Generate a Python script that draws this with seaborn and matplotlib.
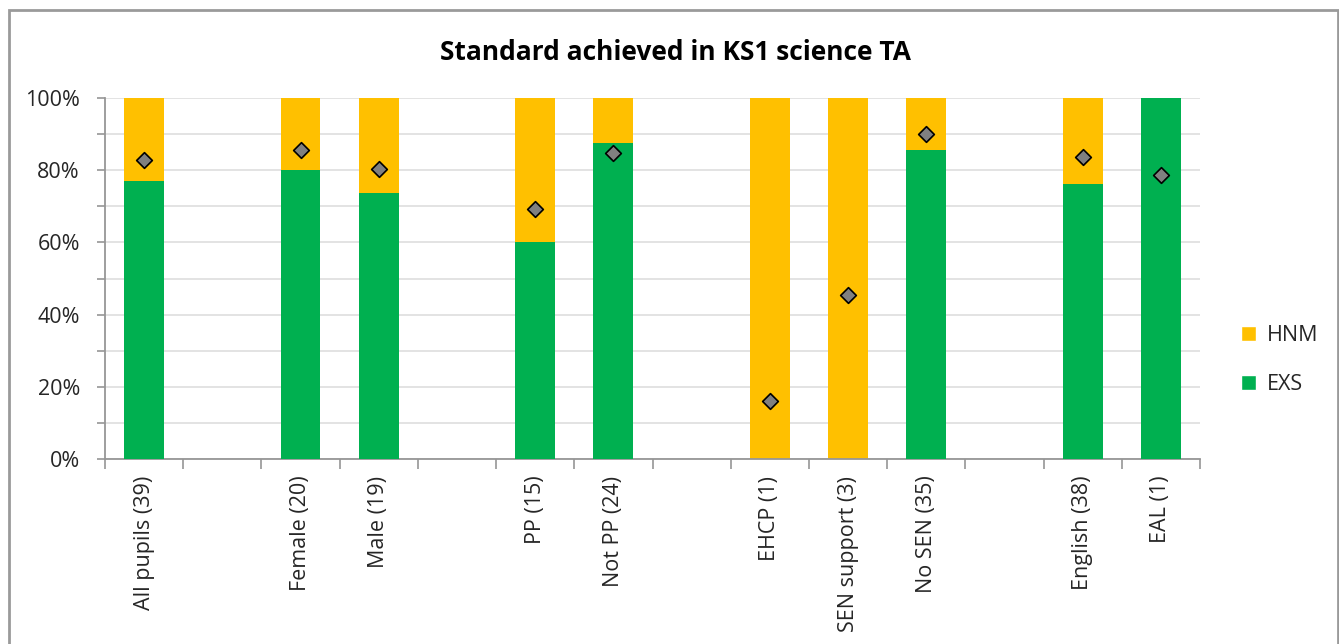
import numpy as np
import pandas as pd
import matplotlib
matplotlib.use('Agg')
import matplotlib.pyplot as plt
import seaborn as sns
from matplotlib.ticker import MultipleLocator, PercentFormatter
from matplotlib.patches import Rectangle, Patch

# Data (blank slots separate the groups)
groups = ['All pupils (39)', ' ', 'Female (20)', 'Male (19)', '  ',
          'PP (15)', 'Not PP (24)', '   ', 'EHCP (1)', 'SEN support (3)',
          'No SEN (35)', '    ', 'English (38)', 'EAL (1)']
exs = [76.9, np.nan, 80.0, 73.7, np.nan, 60.0, 87.5, np.nan, 0.0, 0.0,
       85.7, np.nan, 76.3, 100.0]
total = [100, np.nan, 100, 100, np.nan, 100, 100, np.nan, 100, 100,
         100, np.nan, 100, 100]
comparison = [82.8, np.nan, 85.6, 80.3, np.nan, 69.3, 84.8, np.nan, 16.1, 45.4,
              90.0, np.nan, 83.7, 78.7]

df = pd.DataFrame({'group': groups, 'exs': exs, 'total': total, 'comp': comparison})

sns.set_theme(style='white')
plt.rcParams['font.family'] = ['Open Sans', 'DejaVu Sans']

green = '#00B050'
yellow = '#FFC000'
fs = 15.5

fig = plt.figure(figsize=(13.39, 6.44), dpi=100)
ax = fig.add_axes([105 / 1339, 1 - 459 / 644, 1095 / 1339, 361 / 644])

sns.barplot(data=df, x='group', y='total', order=groups, color=yellow,
            width=0.51, saturation=1, linewidth=0, ax=ax, zorder=2)
sns.barplot(data=df, x='group', y='exs', order=groups, color=green,
            width=0.51, saturation=1, linewidth=0, ax=ax, zorder=3)
sns.stripplot(data=df, x='group', y='comp', order=groups, jitter=False,
              marker='D', size=8, color='#808080', edgecolor='black',
              linewidth=1.2, ax=ax, zorder=4)

ax.set_xlim(-0.5, len(groups) - 0.5)
ax.set_ylim(0, 100)
ax.set_xlabel('')
ax.set_ylabel('')

# gridlines every 10%
ax.yaxis.set_major_locator(MultipleLocator(20))
ax.yaxis.set_minor_locator(MultipleLocator(10))
ax.yaxis.set_major_formatter(PercentFormatter(decimals=0))
ax.grid(axis='y', which='both', color='#e0e0e0', linewidth=1.3, zorder=0)
ax.set_axisbelow(True)

for s in ['top', 'right']:
    ax.spines[s].set_visible(False)
for s in ['left', 'bottom']:
    ax.spines[s].set_color('#969696')
    ax.spines[s].set_linewidth(1.3)

ax.tick_params(axis='y', which='major', length=6, color='#969696', width=1.2,
               labelsize=fs, pad=12, left=True)
ax.tick_params(axis='y', which='minor', length=6, color='#969696', width=1.2,
               left=True)

# x ticks at slot boundaries, labels at centres
ax.set_xticks(np.arange(len(groups)))
ax.set_xticklabels(groups, rotation=90, fontsize=fs)
ax.tick_params(axis='x', which='major', length=0, pad=12)
ax.set_xticks(np.arange(-0.5, len(groups), 1), minor=True)
ax.tick_params(axis='x', which='minor', length=7, color='#969696', width=1.2,
               bottom=True)
for lab in ax.get_xticklabels():
    lab.set_verticalalignment('top')

fig.text(675 / 1339, 1 - 52 / 644, 'Standard achieved in KS1 science TA',
         ha='center', va='center', fontsize=19, fontweight='bold', color='black')

handles = [Patch(facecolor=yellow, label='HNM'), Patch(facecolor=green, label='EXS')]
fig.legend(handles=handles, loc='center left', bbox_to_anchor=(1222 / 1339, 1 - 360 / 644),
           frameon=False, fontsize=fs, handlelength=0.7, handleheight=0.7,
           handletextpad=0.5, labelspacing=1.3)

fig.patches.append(Rectangle((9 / 1339, -0.01), (1338 - 9) / 1339, 1 - 10 / 644 + 0.01,
                             transform=fig.transFigure, fill=False,
                             edgecolor='#9a9a9a', linewidth=2))

fig.savefig('out.png', dpi=100, facecolor='white')
